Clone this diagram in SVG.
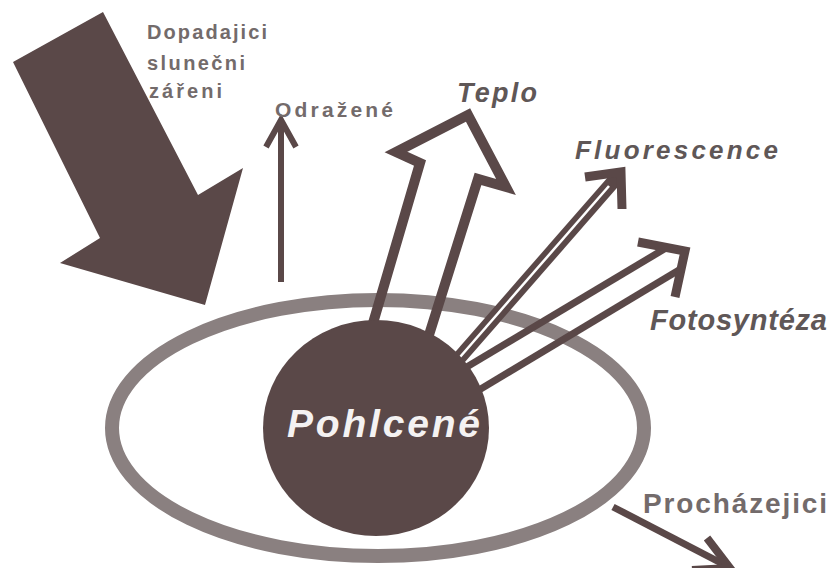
<svg xmlns="http://www.w3.org/2000/svg" width="832" height="568" viewBox="0 0 832 568">
<style>
.lbl{font-family:"Liberation Sans",Arial,sans-serif;font-weight:bold;fill:#736b6b}
.it{font-style:italic;fill:#5f5757}
.dark{stroke:#5a4848;fill:none}
.chev{stroke:#5a4848;fill:none;stroke-linejoin:miter;stroke-miterlimit:10}
</style>
<rect width="832" height="568" fill="#ffffff"/>
<g id="incoming">
<polygon points="13,62 103,12 198,195 243,168 205,305 60,263 100,238" fill="#5a4848"/>
<text class="lbl" font-size="20" x="147" y="39" textLength="120" lengthAdjust="spacing">Dopadajici</text>
<text class="lbl" font-size="20" x="147" y="70" textLength="98" lengthAdjust="spacing">slunečni</text>
<text class="lbl" font-size="20" x="149" y="98" textLength="73" lengthAdjust="spacing">zářeni</text>
</g>
<g id="leaf">
<ellipse cx="378" cy="428" rx="266" ry="128" fill="none" stroke="#8a8080" stroke-width="14"/>
</g>
<g id="connectors">
<g id="reflected">
<line class="dark" x1="281" y1="282" x2="281" y2="121" stroke-width="6"/>
<polyline class="chev" points="266,147 281,120 296,147" stroke-width="6"/>
</g>
<g id="heat">
<path class="chev" d="M371,330 L420,163 L396,152 L468,115 L506,187 L478,179 L429,335" stroke-width="10"/>
</g>
<g id="fluorescence">
<line x1="440" y1="380" x2="619" y2="175" stroke="#5a4848" stroke-width="14"/>
<line x1="440" y1="380" x2="609" y2="186" stroke="#ffffff" stroke-width="2.5"/>
<polyline class="chev" points="585,177 621,172 622,209" stroke-width="9"/>
</g>
<g id="photosynthesis">
<line class="dark" x1="460" y1="371" x2="666" y2="248" stroke-width="7"/>
<line class="dark" x1="474" y1="393" x2="679" y2="270" stroke-width="7"/>
<polyline class="chev" points="638,242 685,251 675,297" stroke-width="9"/>
</g>
<g id="transmitted">
<line class="dark" x1="613" y1="507" x2="727" y2="566" stroke-width="7"/>
<polyline class="chev" points="707,538 730,568 692,570" stroke-width="8"/>
</g>
</g>
<g id="absorbed">
<ellipse cx="376" cy="428" rx="113" ry="108" fill="#5a4848"/>
<text class="lbl" font-size="39" font-style="italic" x="287" y="437" textLength="193" lengthAdjust="spacing" style="fill:#f4f2f2">Pohlcené</text>
</g>
<g id="labels">
<text class="lbl" font-size="21" x="275" y="117" textLength="118" lengthAdjust="spacing">Odražené</text>
<text class="lbl it" font-size="27" x="457" y="102" textLength="80" lengthAdjust="spacing">Teplo</text>
<text class="lbl it" font-size="26" x="575" y="159" textLength="203" lengthAdjust="spacing">Fluorescence</text>
<text class="lbl it" font-size="29" x="650" y="330" textLength="177" lengthAdjust="spacing">Fotosyntéza</text>
<text class="lbl" font-size="28" x="643" y="513" textLength="184" lengthAdjust="spacing">Procházejici</text>
</g>
</svg>
